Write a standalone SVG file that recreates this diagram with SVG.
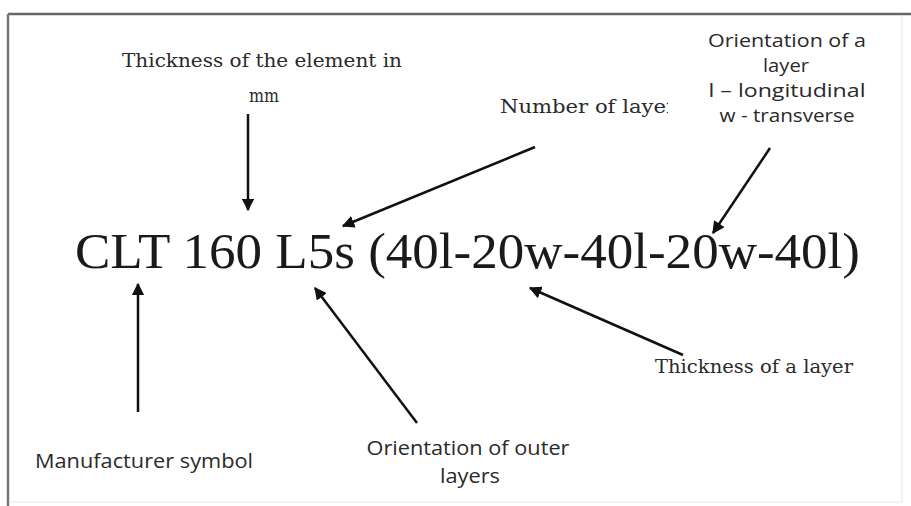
<svg xmlns="http://www.w3.org/2000/svg" width="911" height="506" viewBox="0 0 911 506">
<style>
.serif{font-family:"DejaVu Serif","Liberation Serif",serif;fill:#2a2a2a;font-size:18px}
.sans{font-family:"Open Sans","Liberation Sans",sans-serif;fill:#2a2a2a;font-size:20px}
.small{font-size:18px}
.main{font-size:50px;fill:#1a1a1a;font-family:"Liberation Serif","DejaVu Serif",serif}
.arr{stroke:#111;stroke-width:2.5;fill:none;marker-end:url(#ah)}
</style>
<defs>
<marker id="ah" viewBox="0 0 10 10" refX="9" refY="5" markerWidth="5" markerHeight="5" orient="auto" markerUnits="strokeWidth">
<path d="M0,0 L10,5 L0,10 z" fill="#111"/>
</marker>
<clipPath id="cut"><rect x="480" y="80" width="188" height="50"/></clipPath>
</defs>
<rect width="911" height="506" fill="#fff"/>
<g id="frame">
<line x1="8" y1="14" x2="911" y2="14" stroke="#666" stroke-width="2.5"/>
<line x1="8" y1="14" x2="8" y2="506" stroke="#777" stroke-width="2.5"/>
<line x1="902" y1="15" x2="902" y2="502" stroke="#e4e4e4" stroke-width="1"/>
<line x1="9" y1="502" x2="902" y2="502" stroke="#e8e8e8" stroke-width="1"/>
</g>
<g id="code"><text class="main" x="75" y="268" textLength="785" lengthAdjust="spacingAndGlyphs">CLT 160 L5s (40l-20w-40l-20w-40l)</text></g>
<g id="thickness-element">
<text class="serif" x="262" y="67" text-anchor="middle" textLength="280" lengthAdjust="spacingAndGlyphs">Thickness of the element in</text>
<text class="serif" x="264" y="102" text-anchor="middle" textLength="30" lengthAdjust="spacingAndGlyphs">mm</text>
</g>
<g id="number-layers"><text class="serif" x="500" y="113" textLength="176" lengthAdjust="spacingAndGlyphs" clip-path="url(#cut)">Number of layer</text></g>
<g id="orientation-layer" class="sans small">
<text x="787" y="47" text-anchor="middle" textLength="158" lengthAdjust="spacingAndGlyphs">Orientation of a</text>
<text x="786" y="72" text-anchor="middle" textLength="46" lengthAdjust="spacingAndGlyphs">layer</text>
<text x="787" y="97" text-anchor="middle" textLength="157" lengthAdjust="spacingAndGlyphs">l – longitudinal</text>
<text x="787" y="122" text-anchor="middle" textLength="135" lengthAdjust="spacingAndGlyphs">w - transverse</text>
</g>
<g id="manufacturer"><text class="sans" x="35" y="468" textLength="218" lengthAdjust="spacingAndGlyphs">Manufacturer symbol</text></g>
<g id="orientation-outer" class="sans">
<text x="468" y="455" text-anchor="middle" textLength="203" lengthAdjust="spacingAndGlyphs">Orientation of outer</text>
<text x="470" y="483" text-anchor="middle" textLength="60" lengthAdjust="spacingAndGlyphs">layers</text>
</g>
<g id="thickness-layer"><text class="serif" x="655" y="373" textLength="198" lengthAdjust="spacingAndGlyphs">Thickness of a layer</text></g>
<g id="connectors">
<line class="arr" x1="248" y1="114" x2="248" y2="210"/>
<line class="arr" x1="535" y1="147" x2="343" y2="226"/>
<line class="arr" x1="770" y1="148" x2="713" y2="233"/>
<line class="arr" x1="138" y1="412" x2="138" y2="284"/>
<line class="arr" x1="417" y1="423" x2="315" y2="288"/>
<line class="arr" x1="683" y1="355" x2="530" y2="288"/>
</g>
</svg>
